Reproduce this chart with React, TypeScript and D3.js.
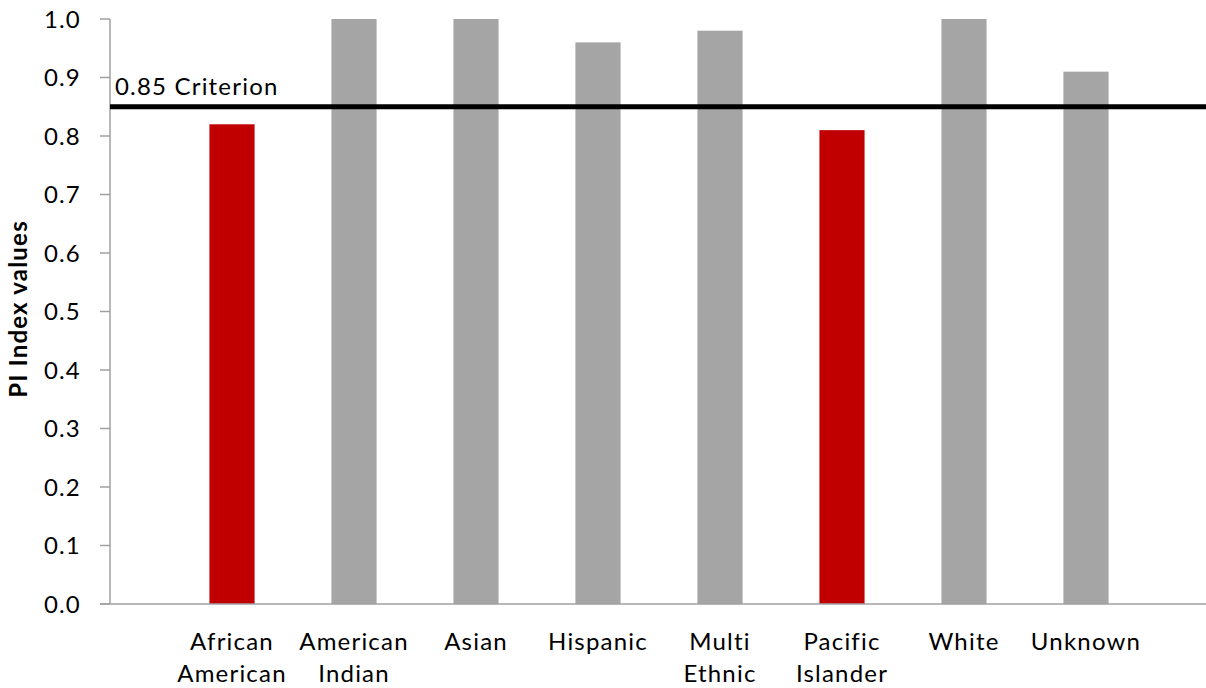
import React from "react";
import * as d3 from "d3";

const categories: string[][] = [
  ["African", "American"],
  ["American", "Indian"],
  ["Asian"],
  ["Hispanic"],
  ["Multi", "Ethnic"],
  ["Pacific", "Islander"],
  ["White"],
  ["Unknown"],
];
const values: number[] = [0.82, 1.0, 1.0, 0.96, 0.98, 0.81, 1.0, 0.91];
const belowCriterion: boolean[] = [true, false, false, false, false, true, false, false];
const yTicks: number[] = [0, 0.1, 0.2, 0.3, 0.4, 0.5, 0.6, 0.7, 0.8, 0.9, 1.0];
const criterion = 0.85;
const criterionLabel = "0.85 Criterion";
const yTitle = "PI Index values";

const W = 1206;
const H = 688;
const axisX = 110;
const axisRight = 1206;
const FONT = "Lato, 'Open Sans', sans-serif";
const FS = 24;
const LS = 1.2;

export default function App() {
  const keys = categories.map((c) => c.join(" "));
  const x = d3.scaleBand<string>().domain(keys).range([171, 1147]).padding(0);
  const y = d3.scaleLinear().domain([0, 1]).range([604, 19]);
  const barW = x.bandwidth() * 0.37;

  return (
    <svg
      width={W}
      height={H}
      style={{ position: "absolute", left: 0, top: 0, background: "#fff" }}
      fontFamily={FONT}
    >
      {/* bars */}
      {values.map((v, i) => {
        const cx = (x(keys[i]) ?? 0) + x.bandwidth() / 2;
        return (
          <rect
            key={keys[i]}
            x={cx - barW / 2}
            y={y(v)}
            width={barW}
            height={y(0) - y(v)}
            fill={belowCriterion[i] ? "#C00000" : "#A5A5A5"}
          />
        );
      })}

      {/* y axis */}
      <line x1={axisX} x2={axisX} y1={y(1)} y2={y(0)} stroke="#A0A0A0" strokeWidth={1.5} />
      {yTicks.map((t) => (
        <g key={t}>
          <line x1={axisX - 10} x2={axisX} y1={y(t)} y2={y(t)} stroke="#A0A0A0" strokeWidth={1.5} />
          <text x={81} y={y(t) + 8.5} textAnchor="end" fontSize={FS} letterSpacing={LS} fill="#000">
            {d3.format(".1f")(t)}
          </text>
        </g>
      ))}

      {/* x axis */}
      <line x1={axisX - 10} x2={axisRight} y1={y(0)} y2={y(0)} stroke="#A0A0A0" strokeWidth={1.5} />
      {categories.map((lines, i) => {
        const cx = (x(keys[i]) ?? 0) + x.bandwidth() / 2;
        return (
          <text key={keys[i]} textAnchor="middle" fontSize={FS} letterSpacing={LS} fill="#000">
            {lines.map((l, j) => (
              <tspan key={j} x={cx} y={650 + j * 32}>
                {l}
              </tspan>
            ))}
          </text>
        );
      })}

      {/* criterion line */}
      <line x1={axisX} x2={axisRight} y1={y(criterion)} y2={y(criterion)} stroke="#000" strokeWidth={5} />
      <text x={115} y={95} fontSize={FS} letterSpacing={LS} fill="#000">
        {criterionLabel}
      </text>

      {/* y title */}
      <text
        transform={`translate(27, ${309}) rotate(-90)`}
        textAnchor="middle"
        fontSize={FS}
        letterSpacing={LS}
        fontWeight="bold"
        fill="#000"
      >
        {yTitle}
      </text>
    </svg>
  );
}
